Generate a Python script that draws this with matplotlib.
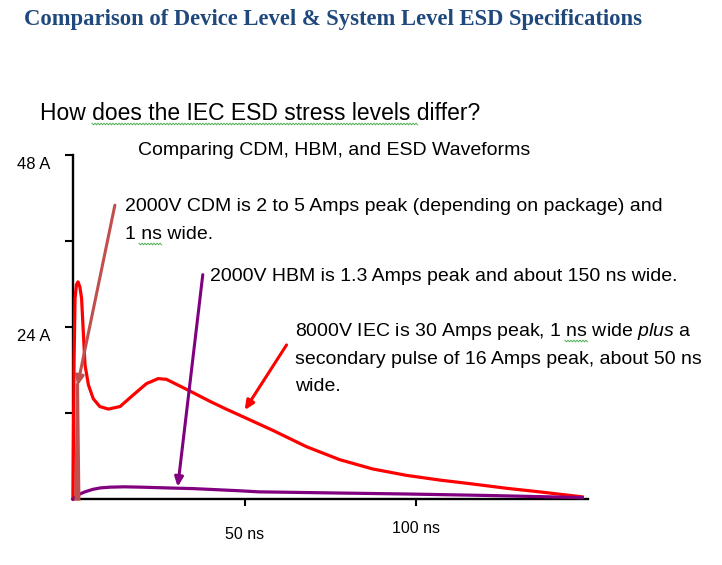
import numpy as np
import matplotlib
matplotlib.use('Agg')
import matplotlib.pyplot as plt
from matplotlib.lines import Line2D
from matplotlib.transforms import ScaledTranslation

# 8000V IEC waveform (time in ns, current in A)
iec_t = [0, 0.3, 0.6, 1.0, 1.45, 2.0, 2.5, 3.0, 3.5, 4.5, 5.9, 7.8, 10.3, 13.7, 17.5, 21.4, 24.8, 27.2,
         33.5, 40.0, 44.8, 48.5, 58.1, 68.0, 77.6, 87.2, 97.1, 106.7, 116.3, 126.2, 135.8, 148.3]
iec_i = [0, 19.0, 28.0, 29.9, 30.3, 29.6, 28.0, 23.3, 18.7, 15.9, 14.0, 12.9, 12.55, 12.9, 14.5, 16.1, 16.8, 16.7,
         15.2, 13.6, 12.5, 11.7, 9.6, 7.3, 5.5, 4.2, 3.3, 2.65, 2.1, 1.5, 1.0, 0.3]

# 2000V HBM waveform
hbm_t = [0, 1, 2, 3.5, 5.8, 8, 10.8, 15, 20, 27, 35, 48.5, 54, 75, 97, 120, 148.3]
hbm_i = [0, 0.4, 0.7, 1.0, 1.35, 1.55, 1.65, 1.7, 1.65, 1.55, 1.45, 1.15, 1.0, 0.85, 0.7, 0.5, 0.2]

# 2000V CDM spike
cdm_t = [0.9, 1.3, 1.7]
cdm_i = [0, 16, 0]

x_ticks = [50, 100]
x_labels = ['50 ns', '100 ns']
y_ticks = [12, 24, 36, 48]
y_labels = ['', '24 A', '', '48 A']

W, H = 722, 565
plt.rcParams['font.family'] = 'Liberation Sans'
plt.rcParams['mathtext.fontset'] = 'custom'
plt.rcParams['mathtext.it'] = 'Liberation Sans:italic'
plt.rcParams['mathtext.rm'] = 'Liberation Sans'

fig = plt.figure(figsize=(W / 100, H / 100), dpi=100)
ax = fig.add_axes([73 / W, 1 - 499 / H, 515 / W, 344 / H])


def fx(x):
    return x / W


def fy(y):
    return 1 - y / H


cdm_c = '#C0504D'
hbm_c = '#800080'
iec_c = '#FF0000'

ax.plot(iec_t, iec_i, color=iec_c, lw=2.3, solid_joinstyle='round', clip_on=False, zorder=3)
ax.plot(hbm_t, hbm_i, color=hbm_c, lw=2.3, solid_joinstyle='round', clip_on=False, zorder=3)
ax.plot(cdm_t, cdm_i, color=cdm_c, lw=2.3, clip_on=False, zorder=4)

ax.set_xlim(0, 150)
ax.set_ylim(0, 48)
for s in ['top', 'right']:
    ax.spines[s].set_visible(False)
for s in ['left', 'bottom']:
    ax.spines[s].set_linewidth(1.7)

ax.set_xticks(x_ticks)
ax.set_xticklabels(x_labels, fontsize=11.5)
ax.set_yticks(y_ticks)
ax.set_yticklabels(y_labels, fontsize=12)
ax.tick_params(axis='x', length=5, width=1.5, pad=13)
ax.tick_params(axis='y', length=6, width=1.5, pad=10)
# small shifts seen in the original slide
for lab, dy in zip(ax.get_xticklabels(), [-2, 2]):
    lab.set_transform(lab.get_transform() + ScaledTranslation(0, dy / 72, fig.dpi_scale_trans))
for lab in ax.get_yticklabels():
    lab.set_transform(lab.get_transform() + ScaledTranslation(0, -6 / 72, fig.dpi_scale_trans))

# arrows
arrow = '-|>,head_length=0.55,head_width=0.25'
ax.annotate('', xy=(1.3, 15.8), xytext=(12.2, 41.0),
            arrowprops=dict(arrowstyle=arrow, color=cdm_c, lw=2.2, shrinkA=0, shrinkB=0),
            annotation_clip=False, zorder=5)
ax.annotate('', xy=(30.5, 1.7), xytext=(37.8, 31.3),
            arrowprops=dict(arrowstyle=arrow, color=hbm_c, lw=2.2, shrinkA=0, shrinkB=0),
            annotation_clip=False, zorder=5)
ax.annotate('', xy=(50.0, 12.4), xytext=(62.2, 21.5),
            arrowprops=dict(arrowstyle=arrow, color=iec_c, lw=2.2, shrinkA=0, shrinkB=0),
            annotation_clip=False, zorder=5)

# header and titles
fig.text(fx(24), fy(25), 'Comparison of Device Level & System Level ESD Specifications',
         family='Liberation Serif', weight='bold', fontsize=16.3, color='#1F497D', va='baseline')
fig.text(fx(40), fy(120), 'How does the IEC ESD stress levels differ?', fontsize=16.5, va='baseline')
fig.text(fx(138), fy(155), 'Comparing CDM, HBM, and ESD Waveforms', fontsize=14, va='baseline')

# annotations
fig.text(fx(125), fy(211), '2000V CDM is 2 to 5 Amps peak (depending on package) and', fontsize=14, va='baseline')
fig.text(fx(125), fy(239), '1 ns wide.', fontsize=14, va='baseline')
fig.text(fx(210), fy(281), '2000V HBM is 1.3 Amps peak and about 150 ns wide.', fontsize=14, va='baseline')
fig.text(fx(295), fy(336), '8000V IEC is 30 Amps peak, 1 ns wide $\\mathit{plus}$ a', fontsize=14, va='baseline')
fig.text(fx(295), fy(364), 'secondary pulse of 16 Amps peak, about 50 ns', fontsize=14, va='baseline')
fig.text(fx(295), fy(391), 'wide.', fontsize=14, va='baseline')


def wavy(x0, x1, y):
    xs = np.arange(x0, x1 + 0.1, 1.5)
    ys = y + np.where(np.arange(len(xs)) % 2 == 0, -0.8, 0.8)
    fig.add_artist(Line2D(fx(xs), fy(ys), color='#4CAF50', lw=0.7, transform=fig.transFigure))


# spell-check underlines from the slide
wavy(92, 418, 124)
wavy(139, 162, 244)
wavy(565, 588, 341)

fig.savefig('out.png', dpi=100)
